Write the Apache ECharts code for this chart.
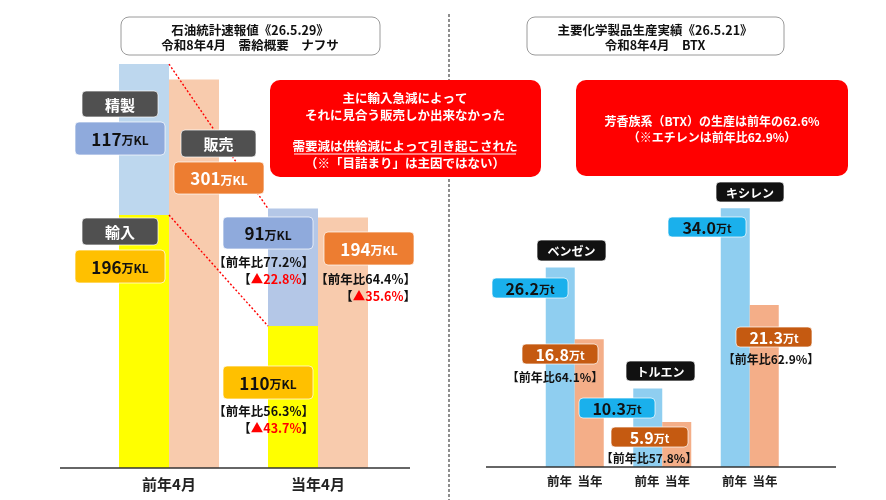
<!DOCTYPE html>
<html><head>
<meta charset="UTF-8">
<title>ナフサ需給概要・BTX生産実績</title>
<style>
  html, body { margin: 0; padding: 0; background: #fff; }
  #chart { width: 886px; height: 500px; }
</style>
</head>
<body>
<div id="chart"></div>
<script src="https://cdn.jsdelivr.net/npm/echarts@6/dist/echarts.min.js"></script>
<script>
  // ナフサ需給（万KL）
  const monthCats = ['前年4月', '当年4月'];
  const refining = [117, 91];
  const imports = [196, 110];
  const sales = [301, 194];
  const yoyRefining = '77.2', dropRefining = '22.8';
  const yoyImports = '56.3', dropImports = '43.7';
  const yoySales = '64.4', dropSales = '35.6';

  // BTX生産（万t）
  const btxCats = ['ベンゼン', 'トルエン', 'キシレン'];
  const btxPrev = [26.2, 10.3, 34.0];
  const btxCurr = [16.8, 5.9, 21.3];
  const btxYoY = ['64.1', '57.8', '62.9'];

  const FONT = '"Noto Sans CJK JP", "Noto Sans", sans-serif';
  const chart = echarts.init(document.getElementById('chart'));

  chart.setOption({
    animation: false,
    textStyle: { fontFamily: FONT },
    grid: [
      { left: 94.5, right: 493.5, top: 55, bottom: 32 },
      { left: 531, right: 92.5, top: 193, bottom: 33 }
    ],
    xAxis: [
      {
        type: 'category', gridIndex: 0, data: monthCats,
        axisLine: { show: false }, axisTick: { show: false },
        axisLabel: { margin: 9, fontSize: 15, fontWeight: 'bold', color: '#222' }
      },
      {
        type: 'category', gridIndex: 1, data: btxCats,
        axisLine: { show: false }, axisTick: { show: false },
        axisLabel: {
          margin: 8, fontSize: 12.5, fontWeight: 'bold', color: '#222',
          formatter: () => '前年  当年'
        }
      }
    ],
    yAxis: [
      { type: 'value', gridIndex: 0, min: 0, max: 320, show: false },
      { type: 'value', gridIndex: 1, min: 0, max: 36, show: false }
    ],
    series: [
      {
        name: '輸入', type: 'bar', xAxisIndex: 0, yAxisIndex: 0, stack: 'supply',
        barWidth: 50, barGap: '0%', data: imports,
        itemStyle: { color: '#FFFF00' }
      },
      {
        name: '精製', type: 'bar', xAxisIndex: 0, yAxisIndex: 0, stack: 'supply',
        barWidth: 50, barGap: '0%', data: refining,
        itemStyle: { color: p => p.dataIndex === 0 ? '#BDD7EE' : '#B4C7E7' }
      },
      {
        name: '販売', type: 'bar', xAxisIndex: 0, yAxisIndex: 0,
        barWidth: 50, barGap: '0%', data: sales,
        itemStyle: { color: '#F8CBAD' }
      },
      {
        name: '前年', type: 'bar', xAxisIndex: 1, yAxisIndex: 1,
        barWidth: 29, barGap: '0%', data: btxPrev,
        itemStyle: { color: '#8FCEF0' }
      },
      {
        name: '当年', type: 'bar', xAxisIndex: 1, yAxisIndex: 1,
        barWidth: 29, barGap: '0%', data: btxCurr,
        itemStyle: { color: '#F4AE88' }
      }
    ]
  });

  // ---- annotations ----
  const g = [];

  function line(x1, y1, x2, y2, stroke, width, dash, z) {
    g.push({
      type: 'line', z: z || 5, silent: true,
      shape: { x1, y1, x2, y2 },
      style: { stroke, lineWidth: width, lineDash: dash || null }
    });
  }
  function rect(x, y, w, h, fill, r, stroke, z) {
    g.push({
      type: 'rect', z: z || 20, silent: true,
      shape: { x, y, width: w, height: h, r: r },
      style: { fill, stroke: stroke || null, lineWidth: stroke ? 1 : 0 }
    });
  }
  function text(x, y, str, opt) {
    opt = opt || {};
    g.push({
      type: 'text', z: opt.z || 30, silent: true, x, y,
      style: {
        text: str, fill: opt.color || '#111', font: (opt.weight || 'bold') + ' ' + (opt.size || 13) + 'px ' + FONT,
        align: opt.align || 'center', verticalAlign: 'middle', rich: opt.rich
      }
    });
  }
  // label box: number + small unit
  function valueBox(x, y, w, h, fill, value, unit, color, big, small) {
    rect(x, y, w, h, fill, 4, 'rgba(255,255,255,0.7)');
    text(x + w / 2, y + h / 2 + 1, '{n|' + value + '}{u|' + unit + '}', {
      color,
      rich: {
        n: { fontSize: big, fontWeight: 'bold', fill: color, fontFamily: FONT },
        u: { fontSize: small, fontWeight: 'bold', fill: color, fontFamily: FONT, padding: [2, 0, 0, 0] }
      }
    });
  }
  function nameBox(x, y, w, h, fill, label, size) {
    rect(x, y, w, h, fill, 4, 'rgba(255,255,255,0.7)');
    text(x + w / 2, y + h / 2 + 1, label, { color: '#fff', size });
  }
  function ratio(xRight, y, yoy, drop) {
    text(xRight, y, '【前年比' + yoy + '%】', { align: 'right', size: 12.5 });
    if (drop) {
      text(xRight, y + 17, '{b|【}{r|▲' + drop + '%}{b|】}', {
        align: 'right',
        rich: {
          b: { fontSize: 12.5, fontWeight: 'bold', fill: '#111', fontFamily: FONT },
          r: { fontSize: 12.5, fontWeight: 'bold', fill: '#FF0000', fontFamily: FONT }
        }
      });
    }
  }

  // divider and base lines
  line(449, 14, 449, 500, '#444', 1.2, [3, 2]);
  line(60, 468, 410, 468, '#333', 1.5, null, 6);
  line(486, 467, 836, 467, '#333', 1.5, null, 6);

  // dotted red connectors between the supply stacks
  const pTop0 = chart.convertToPixel({ gridIndex: 0 }, [0, imports[0] + refining[0]]);
  const pTop1 = chart.convertToPixel({ gridIndex: 0 }, [1, imports[1] + refining[1]]);
  const pImp0 = chart.convertToPixel({ gridIndex: 0 }, [0, imports[0]]);
  const pImp1 = chart.convertToPixel({ gridIndex: 0 }, [1, imports[1]]);
  line(pTop0[0], pTop0[1], pTop1[0] - 50, pTop1[1], '#FF0000', 1.4, [2, 2], 10);
  line(pImp0[0], pImp0[1], pImp1[0] - 50, pImp1[1], '#FF0000', 1.4, [2, 2], 10);

  // title boxes
  rect(121, 17, 259, 38, '#fff', 8, '#9A9A9A');
  text(250, 30, '石油統計速報値《26.5.29》', { size: 12.5 });
  text(250, 45, '令和8年4月　需給概要　ナフサ', { size: 12.5 });
  rect(527, 17, 257, 38, '#fff', 8, '#9A9A9A');
  text(655, 30, '主要化学製品生産実績《26.5.21》', { size: 12.5 });
  text(655, 45, '令和8年4月　BTX', { size: 12.5 });

  // red message boxes
  rect(270, 80, 271, 97, '#FF0000', 10, null);
  text(405, 98, '主に輸入急減によって', { color: '#fff', size: 12.5 });
  text(405, 115, 'それに見合う販売しか出来なかった', { color: '#fff', size: 12.5 });
  text(405, 146, '需要減は供給減によって引き起こされた', { color: '#fff', size: 12.5 });
  line(294, 154, 516, 154, '#fff', 1, null, 30);
  text(405, 163, '（※「目詰まり」は主因ではない）', { color: '#fff', size: 12.5 });

  rect(576, 80, 272, 96, '#FF0000', 10, null);
  text(712, 121, '芳香族系（BTX）の生産は前年の62.6%', { color: '#fff', size: 12 });
  text(712, 137, '（※エチレンは前年比62.9%）', { color: '#fff', size: 12 });

  // left panel labels
  nameBox(82, 91, 76, 26, '#505050', '精製', 15);
  valueBox(75, 122, 90, 33, '#8FAADC', refining[0], '万KL', '#111', 17, 12);
  nameBox(181, 130, 75, 27, '#505050', '販売', 15);
  valueBox(174, 162, 90, 32, '#ED7D31', sales[0], '万KL', '#fff', 17, 12);
  nameBox(82, 218, 76, 27, '#505050', '輸入', 15);
  valueBox(75, 250, 90, 33, '#FFC000', imports[0], '万KL', '#111', 17, 12);

  valueBox(223, 217, 90, 32, '#8FAADC', refining[1], '万KL', '#111', 17, 12);
  ratio(314, 262, yoyRefining, dropRefining);
  valueBox(324, 232, 90, 33, '#ED7D31', sales[1], '万KL', '#fff', 17, 12);
  ratio(416, 279, yoySales, dropSales);
  valueBox(223, 366, 90, 33, '#FFC000', imports[1], '万KL', '#111', 17, 12);
  ratio(314, 411, yoyImports, dropImports);

  // right panel labels
  nameBox(537, 240, 69, 21, '#111', btxCats[0], 12);
  nameBox(626, 361, 69, 20, '#111', btxCats[1], 12);
  nameBox(716, 182, 68, 20, '#111', btxCats[2], 12);

  valueBox(492, 278, 76, 20, '#1AB0EC', btxPrev[0].toFixed(1), '万t', '#111', 16, 11);
  valueBox(522, 344, 76, 20, '#C55A11', btxCurr[0].toFixed(1), '万t', '#fff', 16, 11);
  text(555, 377, '【前年比' + btxYoY[0] + '%】', { size: 12 });
  valueBox(579, 398, 76, 20, '#1AB0EC', btxPrev[1].toFixed(1), '万t', '#111', 16, 11);
  valueBox(611, 427, 77, 20, '#C55A11', btxCurr[1].toFixed(1), '万t', '#fff', 16, 11);
  text(649, 458, '【前年比' + btxYoY[1] + '%】', { size: 12 });
  valueBox(668, 217, 78, 20, '#1AB0EC', btxPrev[2].toFixed(1), '万t', '#111', 16, 11);
  valueBox(736, 327, 76, 20, '#C55A11', btxCurr[2].toFixed(1), '万t', '#fff', 16, 11);
  text(771, 359, '【前年比' + btxYoY[2] + '%】', { size: 12 });

  chart.setOption({ graphic: g });
</script>
</body>
</html>
